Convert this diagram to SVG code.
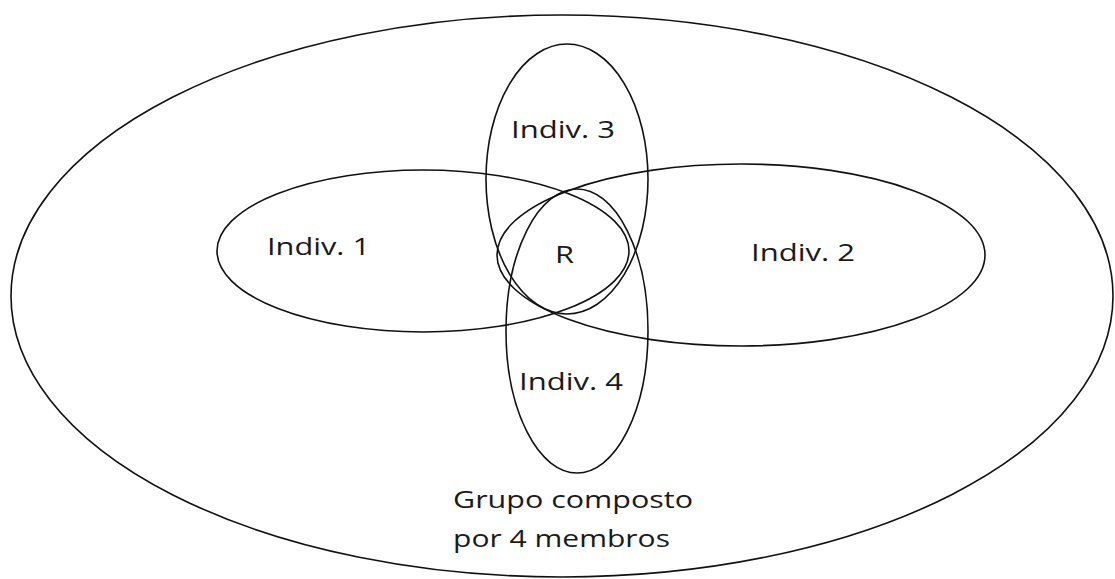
<svg xmlns="http://www.w3.org/2000/svg" width="1115" height="579" viewBox="0 0 1115 579">
<style>
.s{fill:none;stroke:#111;stroke-width:1.6}
.t{font-family:"Open Sans","Liberation Sans",sans-serif;font-size:24px;fill:#1a1a1a}
</style>
<rect width="1115" height="579" fill="#fff"/>
<g id="grupo">
<ellipse class="s" cx="562" cy="296" rx="551" ry="281"/>
<text class="t" x="453" y="508" textLength="240" lengthAdjust="spacingAndGlyphs">Grupo composto</text>
<text class="t" x="453" y="547" textLength="217" lengthAdjust="spacingAndGlyphs">por 4 membros</text>
</g>
<g id="indiv1">
<ellipse class="s" cx="423" cy="251" rx="206" ry="81"/>
<text class="t" x="267" y="255" textLength="103" lengthAdjust="spacingAndGlyphs">Indiv. 1</text>
</g>
<g id="indiv2">
<ellipse class="s" cx="741" cy="255" rx="244" ry="91"/>
<text class="t" x="751" y="261" textLength="104" lengthAdjust="spacingAndGlyphs">Indiv. 2</text>
</g>
<g id="indiv3">
<ellipse class="s" cx="567" cy="179" rx="81" ry="135"/>
<text class="t" x="511" y="138" textLength="104" lengthAdjust="spacingAndGlyphs">Indiv. 3</text>
</g>
<g id="indiv4">
<ellipse class="s" cx="577" cy="331" rx="71" ry="142"/>
<text class="t" x="519" y="390" textLength="104" lengthAdjust="spacingAndGlyphs">Indiv. 4</text>
</g>
<g id="R">
<text class="t" x="555" y="263" textLength="19" lengthAdjust="spacingAndGlyphs">R</text>
</g>
<g id="connectors"></g>
</svg>
